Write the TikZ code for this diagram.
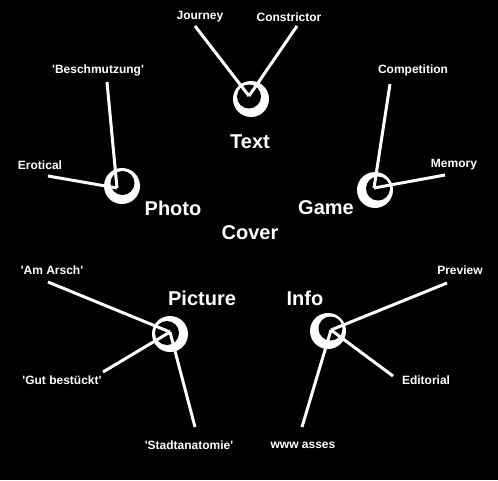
\documentclass[tikz,border=0pt]{standalone}
\usepackage{fontspec}
\setmainfont{Liberation Sans}
\newcommand{\sq}{\textquotesingle}
\begin{document}
\begin{tikzpicture}[x=1pt,y=-1pt,
  conn/.style={draw=white,line width=3pt},
  big/.style={text=white,font=\fontsize{20}{22}\selectfont\bfseries,inner sep=0pt},
  small/.style={text=white,font=\fontsize{12}{14}\selectfont\bfseries,inner sep=0pt}]
\fill[black] (0,0) rectangle (498,480);
\useasboundingbox (0,0) rectangle (498,480);
% hubs: outer white disc, inner black disc offset
\newcommand{\hubring}[4]{%
  \fill[white] (#1,#2) circle (18);
  \fill[black] (#1+#3,#2+#4) circle (12);}
\hubring{251}{99}{-2}{-2.5}
\hubring{122}{186}{0.5}{-3}
\hubring{375}{190}{3}{-1.5}
\hubring{170}{334}{-3}{-1}
\hubring{328}{331}{2.5}{-2.5}
% apex coordinates
\coordinate (tA) at (249,96);
\coordinate (pA) at (117,188);
\coordinate (gA) at (374,188);
\coordinate (qA) at (170,332);
\coordinate (iA) at (331,330);
% line ends
\coordinate (e1) at (195,26);
\coordinate (e2) at (297,26);
\coordinate (e3) at (107,82);
\coordinate (e4) at (48,176);
\coordinate (e5) at (390,84);
\coordinate (e6) at (445,175);
\coordinate (e7) at (48,282);
\coordinate (e8) at (103,372);
\coordinate (e9) at (195,427);
\coordinate (e10) at (447,283);
\coordinate (e11) at (393,376);
\coordinate (e12) at (302,427);
\draw[conn] (e1) -- (tA);
\draw[conn] (e2) -- (tA);
\draw[conn] (e3) -- (pA);
\draw[conn] (e4) -- (pA);
\draw[conn] (e5) -- (gA);
\draw[conn] (e6) -- (gA);
\draw[conn] (e7) -- (qA);
\draw[conn] (e8) -- (qA);
\draw[conn] (e9) -- (qA);
\draw[conn] (e10) -- (iA);
\draw[conn] (e11) -- (iA);
\draw[conn] (e12) -- (iA);
% big labels
\node[big] (text) at (250,142) {Text};
\node[big] (photo) at (173,208) {Photo};
\node[big] (game) at (326,208) {Game};
\node[big] (cover) at (250,233) {Cover};
\node[big] (picture) at (202,298) {Picture};
\node[big] (info) at (305,298) {Info};
% small labels
\node[small] (journey) at (200,17) {Journey};
\node[small] (constr) at (289,17) {Constrictor};
\node[small] (besch) at (98,70) {\sq Beschmutzung\sq};
\node[small] (compet) at (413,70) {Competition};
\node[small] (erot) at (40,165) {Erotical};
\node[small] (memory) at (454,165) {Memory};
\node[small] (amarsch) at (52,270) {\sq Am Arsch\sq};
\node[small] (preview) at (460,270) {Preview};
\node[small] (gut) at (62,380) {\sq Gut bestückt\sq};
\node[small] (edit) at (426,380) {Editorial};
\node[small] (stadt) at (189,445) {\sq Stadtanatomie\sq};
\node[small] (www) at (303,445) {www asses};
\end{tikzpicture}
\end{document}
